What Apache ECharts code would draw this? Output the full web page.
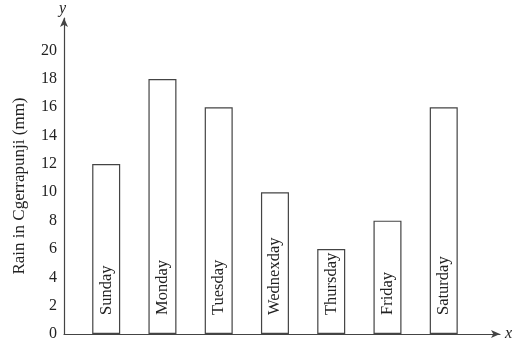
<!DOCTYPE html>
<html><head><meta charset="utf-8">
<script src="https://cdn.jsdelivr.net/npm/echarts@6/dist/echarts.min.js"></script>
<style>html,body{margin:0;padding:0;background:#fff}#c{width:525px;height:348px}</style>
</head><body><div id="c"></div>
<script>
var days = ['Sunday','Monday','Tuesday','Wednexday','Thursday','Friday','Saturday'];
var rain = [12, 18, 16, 10, 6, 8, 16];
var yTicks = [0,2,4,6,8,10,12,14,16,18,20];

var font = '"Liberation Serif", "Times New Roman", serif';
var lineColor = '#444';
var chart = echarts.init(document.getElementById('c'), null, {renderer:'canvas'});
chart.setOption({
  animation:false,
  backgroundColor:'#fff',
  grid:{left:64, right:25, top:18, bottom:14},
  xAxis:{
    type:'value', min:-0.75, max:7.0,
    axisLine:{show:true, onZero:false, lineStyle:{color:lineColor, width:1.2}, symbol:['none','arrow'], symbolSize:[6,9]},
    axisTick:{show:false}, axisLabel:{show:false}, splitLine:{show:false},
    name:'x', nameLocation:'end', nameGap:5,
    nameTextStyle:{fontFamily:font, fontStyle:'italic', fontSize:16, color:'#222', verticalAlign:'middle'}
  },
  yAxis:{
    type:'value', min:0, max:22.3, interval:2,
    axisLine:{show:true, onZero:false, lineStyle:{color:lineColor, width:1.2}, symbol:['none','arrow'], symbolSize:[6,9]},
    axisTick:{show:false}, splitLine:{show:false},
    axisLabel:{margin:7, fontFamily:font, fontSize:16, color:'#222',
      formatter:function(v){ return yTicks.indexOf(v) >= 0 ? String(v) : ''; }},
    name:'Rain in Cgerrapunji (mm)', nameLocation:'middle', nameGap:36,
    nameTextStyle:{fontFamily:font, fontSize:17, color:'#222', padding:[0,20,0,0]}
  },
  graphic:[{type:'text', left:59, top:1, style:{text:'y', font:'italic 16px "Liberation Serif", serif', fill:'#222'}}],
  series:[{
    type:'bar', barWidth:28,
    data: rain.map(function(v,i){ return [i, v]; }),
    itemStyle:{color:'#fff', borderColor:lineColor, borderWidth:1.2},
    label:{show:true, position:'insideBottom', rotate:90, distance:19, align:'left', verticalAlign:'middle',
      fontFamily:font, fontSize:16.5, color:'#222',
      formatter:function(p){ return days[p.dataIndex]; }}
  }]
});
</script></body></html>
